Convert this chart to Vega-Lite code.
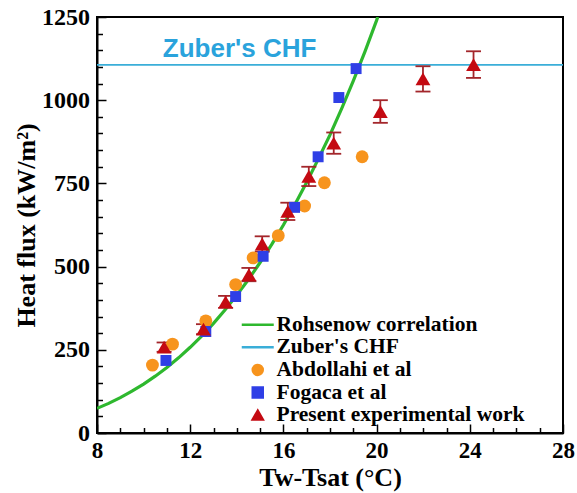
{
  "$schema": "https://vega.github.io/schema/vega-lite/v6.json",
  "width": 466,
  "height": 416,
  "autosize": {"type": "none"},
  "padding": {"left": 97, "top": 17, "right": 14, "bottom": 60},
  "background": "white",
  "config": {
    "view": {"stroke": "black", "strokeWidth": 2},
    "axis": {
      "grid": false,
      "domainColor": "black",
      "domainWidth": 2,
      "tickColor": "black",
      "tickWidth": 1.5,
      "labelFont": "Liberation Serif",
      "labelFontWeight": "bold",
      "labelColor": "black",
      "labelFlush": false,
      "labelOverlap": false,
      "labelBound": false,
      "titleFont": "Liberation Serif",
      "titleFontWeight": "bold",
      "titleColor": "black",
      "titleFontSize": 26
    },
    "legend": {
      "orient": "none",
      "legendX": 150,
      "legendY": 297,
      "padding": 0,
      "rowPadding": -0.4,
      "labelFont": "Liberation Serif",
      "labelFontWeight": "bold",
      "labelFontSize": 21.5,
      "labelColor": "black",
      "labelLimit": 400,
      "labelOffset": 8,
      "symbolSize": 100,
      "symbolStrokeWidth": 2.5,
      "symbolOpacity": 1
    }
  },
  "datasets": {
    "rohsenow": [
      {"series": "Rohsenow correlation", "dT": 8.0, "q": 74.0},
      {"series": "Rohsenow correlation", "dT": 8.5, "q": 89.1},
      {"series": "Rohsenow correlation", "dT": 9.0, "q": 106.2},
      {"series": "Rohsenow correlation", "dT": 9.5, "q": 125.5},
      {"series": "Rohsenow correlation", "dT": 10.0, "q": 146.9},
      {"series": "Rohsenow correlation", "dT": 10.5, "q": 170.8},
      {"series": "Rohsenow correlation", "dT": 11.0, "q": 197.0},
      {"series": "Rohsenow correlation", "dT": 11.5, "q": 225.9},
      {"series": "Rohsenow correlation", "dT": 12.0, "q": 257.6},
      {"series": "Rohsenow correlation", "dT": 12.5, "q": 292.1},
      {"series": "Rohsenow correlation", "dT": 13.0, "q": 329.6},
      {"series": "Rohsenow correlation", "dT": 13.5, "q": 370.3},
      {"series": "Rohsenow correlation", "dT": 14.0, "q": 414.3},
      {"series": "Rohsenow correlation", "dT": 14.5, "q": 461.4},
      {"series": "Rohsenow correlation", "dT": 15.0, "q": 512.3},
      {"series": "Rohsenow correlation", "dT": 15.5, "q": 566.6},
      {"series": "Rohsenow correlation", "dT": 16.0, "q": 625.0},
      {"series": "Rohsenow correlation", "dT": 16.5, "q": 687.1},
      {"series": "Rohsenow correlation", "dT": 17.0, "q": 753.2},
      {"series": "Rohsenow correlation", "dT": 17.5, "q": 823.6},
      {"series": "Rohsenow correlation", "dT": 18.0, "q": 895.8},
      {"series": "Rohsenow correlation", "dT": 18.5, "q": 974.7},
      {"series": "Rohsenow correlation", "dT": 19.0, "q": 1058.0},
      {"series": "Rohsenow correlation", "dT": 19.5, "q": 1146.1},
      {"series": "Rohsenow correlation", "dT": 20.0, "q": 1240.0},
      {"series": "Rohsenow correlation", "dT": 20.05, "q": 1250.0}
    ],
    "zuber": [
      {"series": "Zuber's CHF", "q": 1106, "dT": 14.12, "labelQ": 1131, "label": "Zuber's CHF"}
    ],
    "obs": [
      {"series": "Abdollahi et al", "dT": 10.38, "q": 204},
      {"series": "Abdollahi et al", "dT": 11.24, "q": 267},
      {"series": "Abdollahi et al", "dT": 12.67, "q": 337},
      {"series": "Abdollahi et al", "dT": 13.95, "q": 446},
      {"series": "Abdollahi et al", "dT": 14.70, "q": 526},
      {"series": "Abdollahi et al", "dT": 15.78, "q": 593},
      {"series": "Abdollahi et al", "dT": 16.91, "q": 682},
      {"series": "Abdollahi et al", "dT": 17.76, "q": 752},
      {"series": "Abdollahi et al", "dT": 19.38, "q": 830},
      {"series": "Fogaca et al", "dT": 10.96, "q": 218},
      {"series": "Fogaca et al", "dT": 12.67, "q": 305},
      {"series": "Fogaca et al", "dT": 13.95, "q": 410},
      {"series": "Fogaca et al", "dT": 15.13, "q": 531},
      {"series": "Fogaca et al", "dT": 16.48, "q": 678},
      {"series": "Fogaca et al", "dT": 17.49, "q": 830},
      {"series": "Fogaca et al", "dT": 18.38, "q": 1008},
      {"series": "Fogaca et al", "dT": 19.12, "q": 1095},
      {"series": "Present experimental work", "dT": 10.88, "q": 258, "lo": 244, "hi": 272},
      {"series": "Present experimental work", "dT": 12.57, "q": 312, "lo": 297, "hi": 327},
      {"series": "Present experimental work", "dT": 13.52, "q": 394, "lo": 376, "hi": 412},
      {"series": "Present experimental work", "dT": 14.52, "q": 476, "lo": 456, "hi": 496},
      {"series": "Present experimental work", "dT": 15.09, "q": 568, "lo": 545, "hi": 591},
      {"series": "Present experimental work", "dT": 16.19, "q": 666, "lo": 640, "hi": 692},
      {"series": "Present experimental work", "dT": 17.09, "q": 771, "lo": 742, "hi": 800},
      {"series": "Present experimental work", "dT": 18.16, "q": 871, "lo": 839, "hi": 903},
      {"series": "Present experimental work", "dT": 20.16, "q": 966, "lo": 932, "hi": 1000},
      {"series": "Present experimental work", "dT": 21.99, "q": 1064, "lo": 1026, "hi": 1102},
      {"series": "Present experimental work", "dT": 24.16, "q": 1107, "lo": 1067, "hi": 1147}
    ]
  },
  "encoding": {
    "x": {
      "field": "dT",
      "type": "quantitative",
      "scale": {"domain": [8, 28], "nice": false, "zero": false},
      "axis": {
        "orient": "top",
        "offset": -416,
        "title": "Tw-Tsat (°C)",
        "format": "d",
        "values": [8, 9, 10, 11, 12, 13, 14, 15, 16, 17, 18, 19, 20, 21, 22, 23, 24, 25, 26, 27, 28],
        "labelExpr": "datum.value % 4 === 0 ? datum.label : ''",
        "tickSize": {"condition": {"test": "datum.value % 4 === 0", "value": 9}, "value": 5.5},
        "labelPadding": -15,
        "labelBaseline": "top",
        "labelFontSize": 23,
        "titleBaseline": "alphabetic",
        "titleAlign": "center",
        "titleX": 233,
        "titleY": 52
      }
    },
    "y": {
      "field": "q",
      "type": "quantitative",
      "scale": {"domain": [0, 1250], "nice": false},
      "axis": {
        "orient": "right",
        "offset": -466,
        "title": "Heat flux (kW/m²)",
        "format": "d",
        "values": [0, 50, 100, 150, 200, 250, 300, 350, 400, 450, 500, 550, 600, 650, 700, 750, 800, 850, 900, 950, 1000, 1050, 1100, 1150, 1200, 1250],
        "labelExpr": "datum.value % 250 === 0 ? datum.label : ''",
        "tickSize": {"condition": {"test": "datum.value % 250 === 0", "value": 9}, "value": 5.5},
        "labelPadding": -16.5,
        "labelAlign": "right",
        "labelBaseline": "middle",
        "labelFontSize": 24,
        "titleAngle": -90,
        "titleAlign": "center",
        "titleBaseline": "middle",
        "titleX": -70.5,
        "titleY": 208
      }
    }
  },
  "layer": [
    {
      "data": {"name": "rohsenow"},
      "mark": {"type": "line", "strokeWidth": 3.2, "clip": true},
      "encoding": {
        "color": {
          "field": "series",
          "type": "nominal",
          "scale": {
            "domain": ["Rohsenow correlation", "Zuber's CHF", "Abdollahi et al", "Fogaca et al", "Present experimental work"],
            "range": ["#2eb82e", "#3aaed8", "#f7941d", "#2f3fe6", "#c40a12"]
          }
        }
      }
    },
    {
      "data": {"name": "zuber"},
      "mark": {"type": "rule", "strokeWidth": 1.6},
      "encoding": {
        "x": null,
        "color": {"field": "series", "type": "nominal"}
      }
    },
    {
      "data": {"name": "zuber"},
      "mark": {
        "type": "text",
        "font": "Liberation Sans",
        "fontWeight": "bold",
        "fontSize": 26,
        "align": "center",
        "baseline": "alphabetic",
        "color": "#2aa3dc"
      },
      "encoding": {
        "y": {"field": "labelQ", "type": "quantitative"},
        "text": {"field": "label"}
      }
    },
    {
      "data": {"name": "obs"},
      "transform": [{"filter": "datum.series === 'Present experimental work'"}],
      "mark": {"type": "rule", "color": "#a3262b", "strokeWidth": 1.8},
      "encoding": {
        "y": {"field": "lo", "type": "quantitative"},
        "y2": {"field": "hi"}
      }
    },
    {
      "data": {"name": "obs"},
      "transform": [{"filter": "datum.series === 'Present experimental work'"}],
      "mark": {"type": "tick", "orient": "horizontal", "color": "#a3262b", "size": 15, "thickness": 1.8, "opacity": 1},
      "encoding": {
        "y": {"field": "lo", "type": "quantitative"}
      }
    },
    {
      "data": {"name": "obs"},
      "transform": [{"filter": "datum.series === 'Present experimental work'"}],
      "mark": {"type": "tick", "orient": "horizontal", "color": "#a3262b", "size": 15, "thickness": 1.8, "opacity": 1},
      "encoding": {
        "y": {"field": "hi", "type": "quantitative"}
      }
    },
    {
      "data": {"name": "obs"},
      "transform": [{"filter": "datum.series === 'Abdollahi et al'"}],
      "mark": {"type": "point", "filled": true, "opacity": 1, "strokeWidth": 0, "size": 165},
      "encoding": {
        "color": {"field": "series", "type": "nominal", "legend": {"title": null}},
        "shape": {
          "field": "series",
          "type": "nominal",
          "scale": {
            "domain": ["Rohsenow correlation", "Zuber's CHF", "Abdollahi et al", "Fogaca et al", "Present experimental work"],
            "range": ["M-3.2,0H3.2", "M-3.2,0H3.2", "circle", "square", "triangle-up"]
          },
          "legend": {"title": null}
        }
      }
    },
    {
      "data": {"name": "obs"},
      "transform": [{"filter": "datum.series === 'Fogaca et al'"}],
      "mark": {"type": "point", "filled": true, "opacity": 1, "strokeWidth": 0, "size": 120},
      "encoding": {
        "color": {"field": "series", "type": "nominal"},
        "shape": {"field": "series", "type": "nominal"}
      }
    },
    {
      "data": {"name": "obs"},
      "transform": [{"filter": "datum.series === 'Present experimental work'"}],
      "mark": {"type": "point", "filled": true, "opacity": 1, "strokeWidth": 0, "size": 220},
      "encoding": {
        "color": {"field": "series", "type": "nominal"},
        "shape": {"field": "series", "type": "nominal"}
      }
    }
  ]
}
